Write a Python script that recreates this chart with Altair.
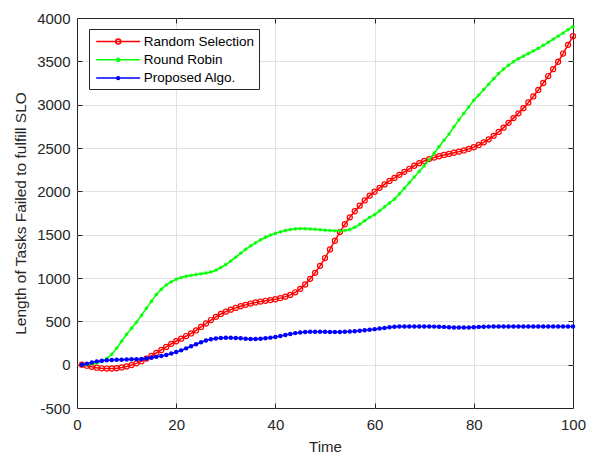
import altair as alt
import pandas as pd

series_names = ["Random Selection", "Round Robin", "Proposed Algo."]
series_colors = ["#ff0000", "#00ff00", "#0000ff"]
time = list(range(1, 101))

random_selection = [
    0, -12, -25, -35, -42, -45, -44, -40, -32, -20,
    -5, 15, 40, 70, 100, 135, 170, 205, 240, 270,
    300, 330, 360, 395, 435, 475, 515, 552, 585, 612,
    635, 655, 675, 690, 705, 718, 728, 737, 745, 755,
    768, 785, 805, 835, 875, 925, 990, 1060, 1140, 1230,
    1330, 1430, 1530, 1620, 1700, 1770, 1835, 1895, 1950, 1995,
    2040, 2080, 2120, 2155, 2190, 2225, 2260, 2295, 2325, 2350,
    2372, 2390, 2405, 2420, 2432, 2445, 2458, 2472, 2490, 2510,
    2535, 2565, 2600, 2640, 2685, 2735, 2790, 2845, 2900, 2960,
    3025, 3095, 3170, 3250, 3330, 3410, 3495, 3590, 3690, 3790,
]
round_robin = [
    0, 2, 8, 20, 40, 70, 120, 190, 270, 350,
    420, 490, 570, 650, 730, 810, 870, 920, 955, 985,
    1005, 1020, 1030, 1040, 1048, 1058, 1070, 1090, 1120, 1155,
    1195, 1240, 1285, 1330, 1370, 1405, 1440, 1470, 1495, 1515,
    1532, 1548, 1560, 1567, 1570, 1569, 1566, 1562, 1557, 1552,
    1548, 1545, 1545, 1548, 1560, 1585, 1620, 1660, 1700, 1730,
    1775, 1820, 1865, 1910, 1970, 2035, 2100, 2165, 2230, 2295,
    2365, 2440, 2515, 2590, 2660, 2745, 2825, 2900, 2975, 3050,
    3110, 3175, 3235, 3300, 3360, 3410, 3455, 3495, 3530, 3560,
    3590, 3620, 3650, 3685, 3720, 3755, 3790, 3825, 3865, 3900,
]
proposed_algo = [
    0, 12, 25, 38, 45, 50, 55, 57, 58, 60,
    62, 63, 66, 72, 80, 90, 100, 112, 128, 145,
    165, 188, 212, 235, 258, 278, 293, 302, 308, 310,
    310, 308, 305, 300, 297, 297, 300, 305, 312, 320,
    330, 342, 354, 364, 372, 377, 380, 380, 380, 379,
    378, 378, 378, 379, 382, 386, 392, 398, 404, 410,
    417, 424, 431, 437, 440, 441, 441, 441, 440, 440,
    440, 439, 438, 436, 433, 430, 428, 428, 430, 433,
    436, 438, 439, 440, 440, 440, 440, 440, 440, 440,
    440, 440, 440, 440, 440, 440, 440, 440, 440, 440,
]

x_ticks = [0, 20, 40, 60, 80, 100]
x_inner = [20, 40, 60, 80]
y_ticks = [-500, 0, 500, 1000, 1500, 2000, 2500, 3000, 3500, 4000]
y_inner = [0, 500, 1000, 1500, 2000, 2500, 3000, 3500]

rows = []
for name, vals in zip(series_names, [random_selection, round_robin, proposed_algo]):
    for t, v in zip(time, vals):
        rows.append({"t": t, "v": v, "series": name})
df = pd.DataFrame(rows)

FONT = "Liberation Sans"
AX = "#262626"

xs = alt.Scale(domain=[0, 100], nice=False, zero=False)
ys = alt.Scale(domain=[-500, 4000], nice=False, zero=False)

x_label_axis = alt.Axis(orient="bottom", values=x_ticks, ticks=False, domain=False, grid=False,
                        labelExpr="'' + datum.value",
                        labelFont=FONT, labelFontSize=15, labelColor=AX, labelPadding=9,
                        labelFlush=False, labelOverlap=False, labelBound=False,
                        title="Time", titleFont=FONT, titleFontSize=15, titleFontWeight="normal",
                        titleColor=AX, titlePadding=7)
y_label_axis = alt.Axis(orient="left", values=y_ticks, ticks=False, domain=False, grid=False,
                        labelExpr="'' + datum.value",
                        labelFont=FONT, labelFontSize=15, labelColor=AX, labelPadding=7,
                        labelFlush=False, labelOverlap=False, labelBound=False,
                        title="Length of Tasks Failed to fulfill SLO", titleFont=FONT,
                        titleFontSize=15.5, titleFontWeight="normal", titleColor=AX, titlePadding=8)


def tick_axis(orient, values):
    return alt.Axis(orient=orient, values=values, offset=-5, ticks=True, tickSize=5,
                    tickColor=AX, tickWidth=1, labels=False, domain=False, grid=False, title=None)


def grid_axis(orient, values):
    return alt.Axis(orient=orient, values=values, grid=True, gridColor="#e2e2e2", gridWidth=1,
                    ticks=False, labels=False, domain=False, title=None)


sym_expr = (
    "datum.value === 'Random Selection' ? "
    "'M-3,0H3M0.34,0A0.34,0.34,0,1,1,-0.34,0A0.34,0.34,0,1,1,0.34,0' : "
    "datum.value === 'Round Robin' ? "
    "'M-3,0H3M-0.22,-0.22L0.22,0.22M-0.22,0.22L0.22,-0.22M0,-0.3V0.3' : "
    "'M-3,0H3M0.2,0A0.2,0.2,0,1,1,-0.2,0A0.2,0.2,0,1,1,0.2,0'"
)

legend = alt.Legend(title=None, orient="none", legendX=12, legendY=11,
                    fillColor="white", strokeColor=AX, padding=4, cornerRadius=0,
                    symbolType=alt.ExprRef(expr=sym_expr), symbolSize=215,
                    symbolStrokeWidth=1.5, symbolOffset=16.7, labelOffset=17,
                    rowPadding=3.3, labelFont=FONT, labelFontSize=13.5, labelColor="black",
                    labelLimit=300)

color_scale = alt.Scale(domain=series_names, range=series_colors)

base = alt.Chart(df)


def sel(name):
    return base.transform_filter(alt.datum.series == name)


red_line = sel("Random Selection").mark_line(strokeWidth=1.5).encode(
    x=alt.X("t:Q", scale=xs, axis=x_label_axis),
    y=alt.Y("v:Q", scale=ys, axis=y_label_axis),
    color=alt.Color("series:N", scale=color_scale, legend=legend),
)
red_pts = sel("Random Selection").mark_point(shape="circle", filled=False, size=26,
                                             strokeWidth=1.2, color="#ff0000", opacity=1).encode(
    x=alt.X("t:Q", axis=tick_axis("bottom", x_inner)),
    y=alt.Y("v:Q", axis=tick_axis("left", y_inner)),
)
green_line = sel("Round Robin").mark_line(strokeWidth=1.5).encode(
    x=alt.X("t:Q", axis=tick_axis("top", x_inner)),
    y=alt.Y("v:Q", axis=tick_axis("right", y_inner)),
    color=alt.Color("series:N", scale=color_scale, legend=None),
)
green_pts = sel("Round Robin").mark_point(
    shape="M-1,0H1M0,-1V1M-0.7,-0.7L0.7,0.7M-0.7,0.7L0.7,-0.7",
    filled=False, size=14, strokeWidth=1, color="#00ff00", opacity=1).encode(
    x=alt.X("t:Q", axis=grid_axis("bottom", x_inner)),
    y=alt.Y("v:Q", axis=grid_axis("left", y_inner)),
)
blue_line = sel("Proposed Algo.").mark_line(strokeWidth=1.5).encode(
    x=alt.X("t:Q", axis=None),
    y=alt.Y("v:Q", axis=None),
    color=alt.Color("series:N", scale=color_scale, legend=None),
)
blue_pts = sel("Proposed Algo.").mark_point(shape="circle", filled=True, size=20,
                                            color="#0000ff", opacity=1).encode(
    x=alt.X("t:Q", axis=None),
    y=alt.Y("v:Q", axis=None),
)

chart = alt.layer(red_line, red_pts, green_line, green_pts, blue_line, blue_pts).resolve_axis(
    x="independent", y="independent"
).properties(
    width=496, height=390, autosize="none",
    padding={"left": 77, "top": 18, "right": 16, "bottom": 46},
    background="white",
).configure_view(stroke=AX, strokeWidth=1)

chart.save("out.html", embed_options={"renderer": "svg", "actions": False})
